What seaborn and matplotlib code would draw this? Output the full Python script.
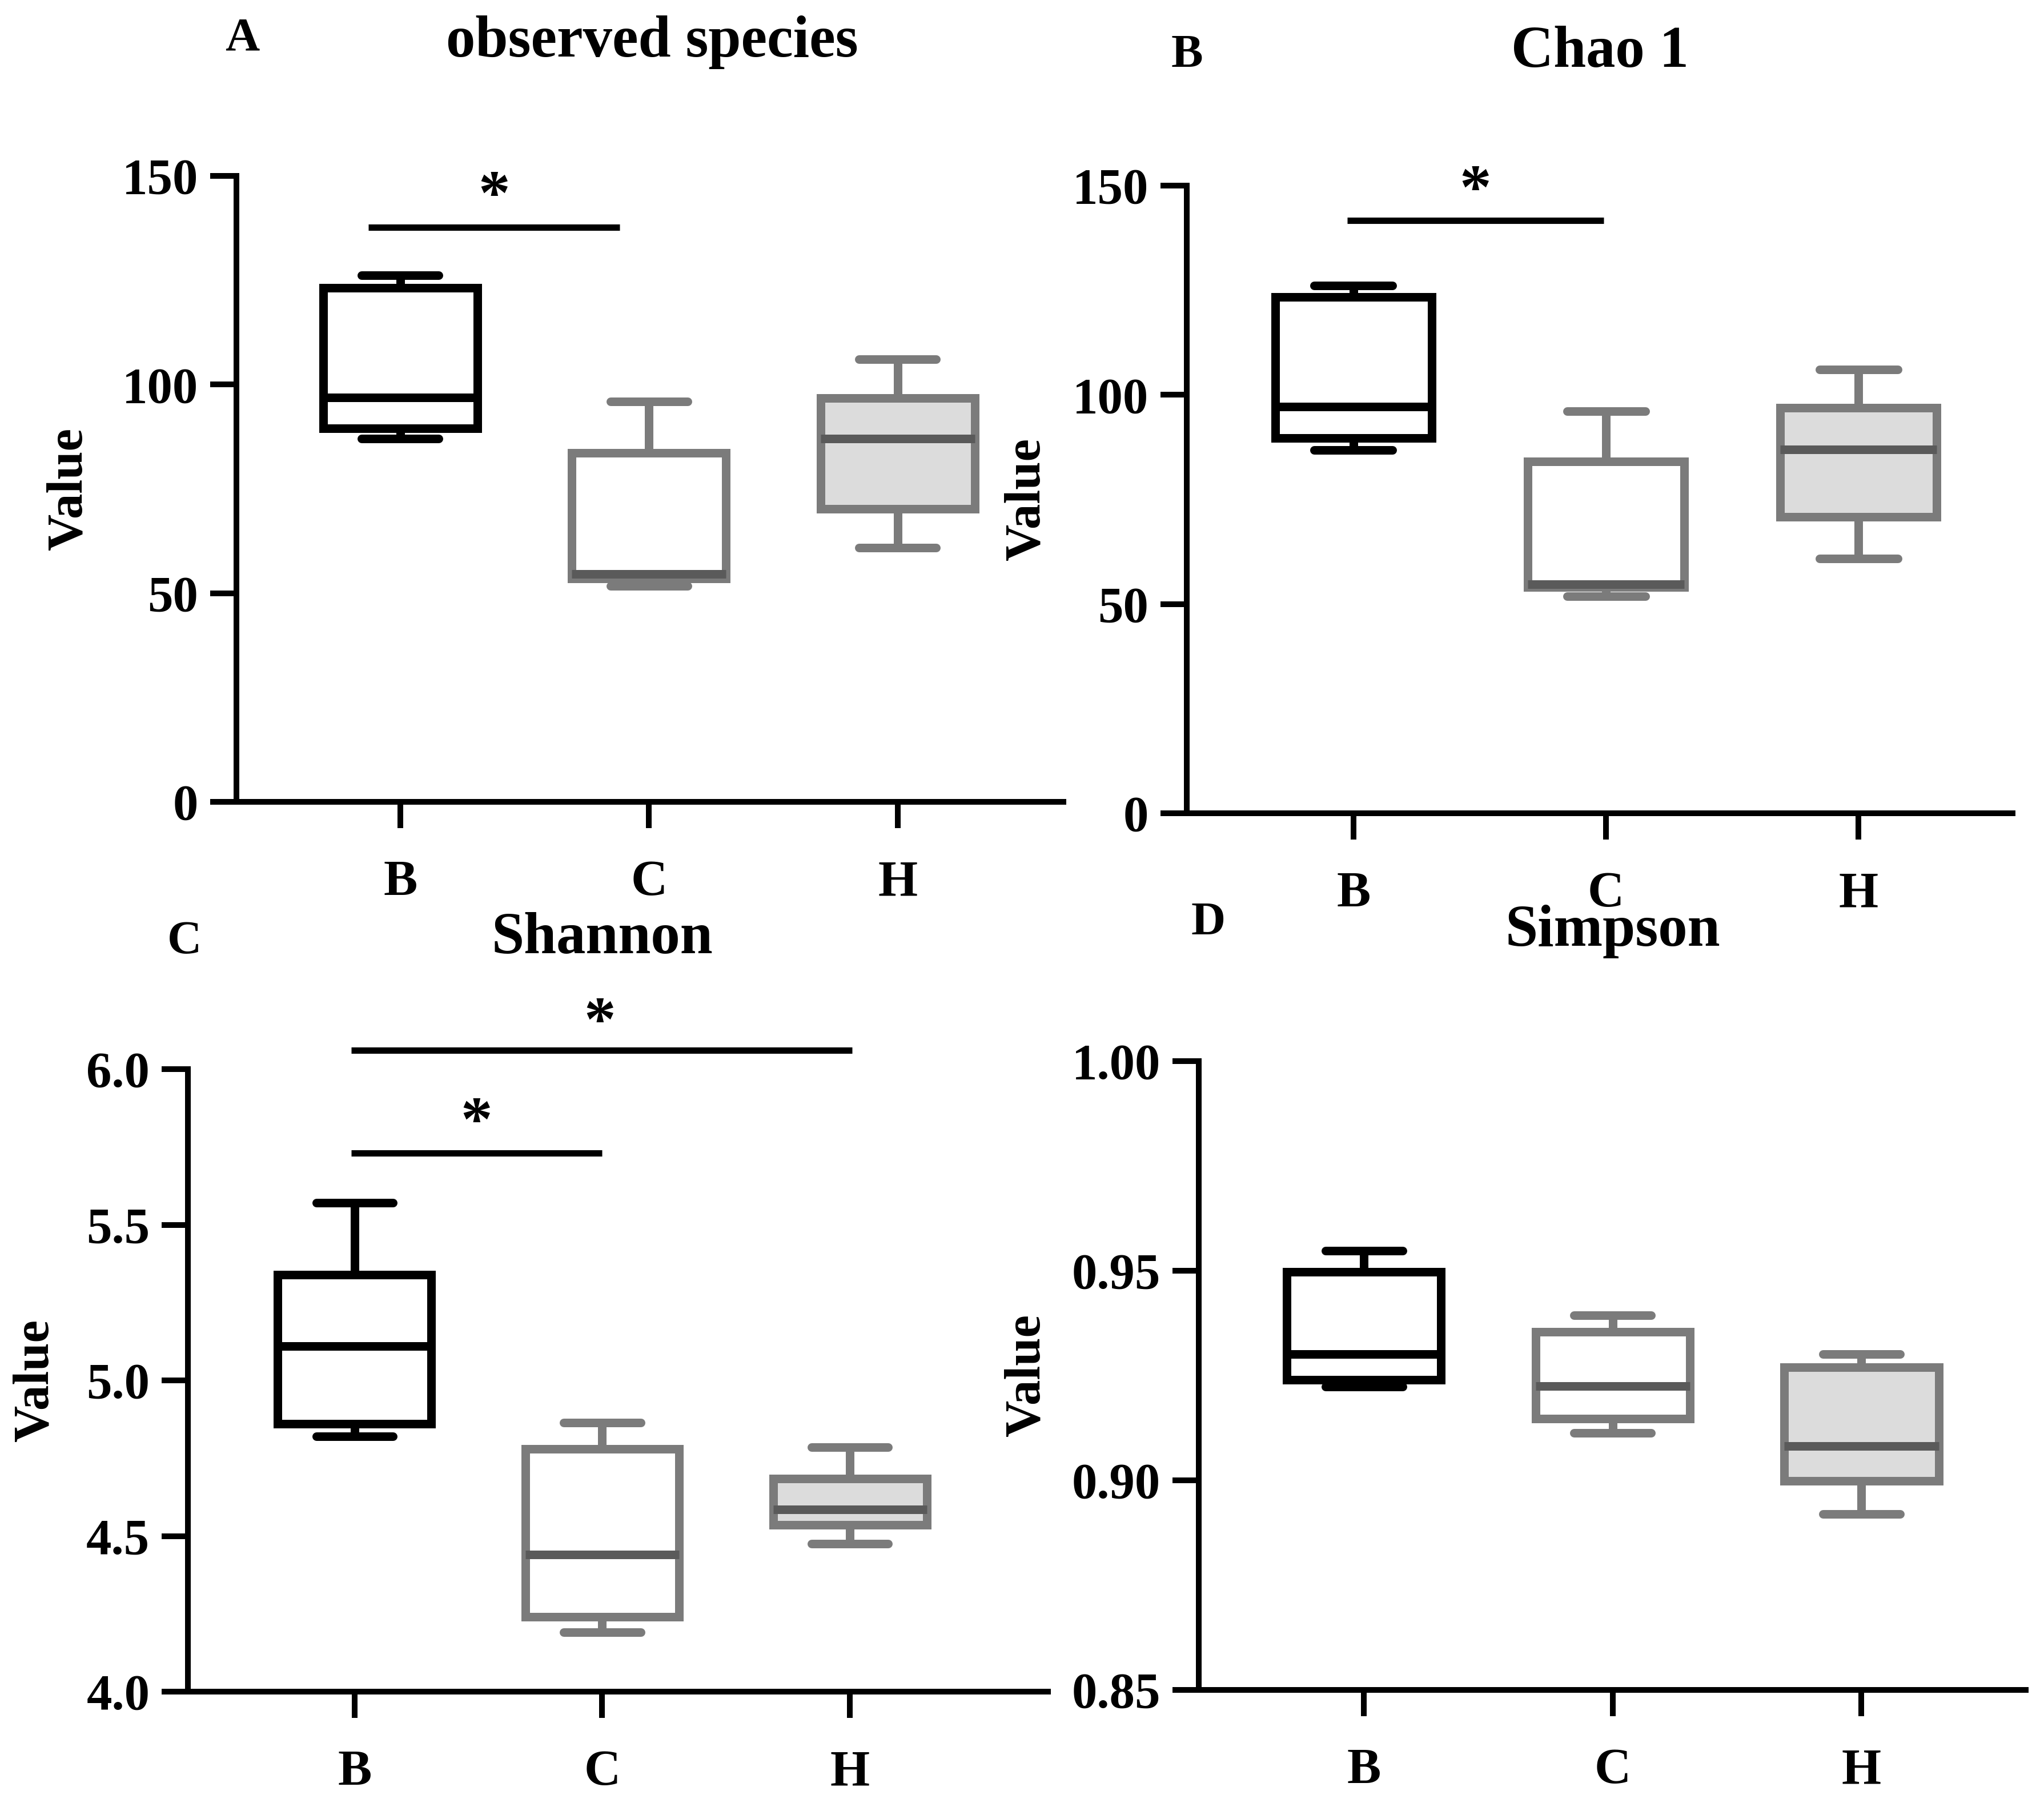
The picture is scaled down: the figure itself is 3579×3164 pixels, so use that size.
import numpy as np
import pandas as pd
import matplotlib
matplotlib.use('Agg')
import matplotlib.pyplot as plt
from matplotlib.ticker import FormatStrFormatter
import seaborn as sns

groups = ['B', 'C', 'H']

# five-number summaries: min, q1, median, q3, max
observed_B = [87.0, 89.5, 96.9, 123.2, 126.2]
observed_C = [51.8, 53.5, 54.6, 83.6, 95.9]
observed_H = [60.9, 70.2, 87.0, 96.8, 106.0]

chao1_B = [86.8, 89.7, 97.2, 123.4, 126.1]
chao1_C = [51.9, 54.0, 54.7, 84.1, 96.1]
chao1_H = [60.9, 70.8, 87.0, 96.9, 106.1]

shannon_B = [4.82, 4.86, 5.11, 5.34, 5.57]
shannon_C = [4.19, 4.24, 4.44, 4.78, 4.865]
shannon_H = [4.475, 4.535, 4.585, 4.685, 4.785]

simpson_B = [0.9223, 0.9240, 0.9301, 0.9497, 0.9548]
simpson_C = [0.9113, 0.9147, 0.9225, 0.9354, 0.9394]
simpson_H = [0.8920, 0.8999, 0.9082, 0.9270, 0.9301]

# significance bars: (x start, x end, bar y, star y)
sig_observed = [(-0.128, 0.882, 137.7, 148.2)]
sig_chao1 = [(-0.025, 0.99, 141.7, 151.9)]
sig_shannon = [(-0.014, 2.01, 6.06, 6.19), (-0.014, 1.0, 5.73, 5.87)]
sig_simpson = []

sns.set_style('ticks')
plt.rcParams['font.family'] = ['Liberation Serif', 'DejaVu Serif']
plt.rcParams['font.weight'] = 'bold'
plt.rcParams['text.color'] = 'black'
plt.rcParams['axes.edgecolor'] = 'black'
plt.rcParams['xtick.color'] = 'black'
plt.rcParams['ytick.color'] = 'black'

W, H = 3579, 3164
DPI = 200
fig = plt.figure(figsize=(W / DPI, H / DPI), dpi=DPI)

fills = {'B': 'white', 'C': 'white', 'H': '#dcdcdc'}
edges = {'B': 'black', 'C': '#7b7b7b', 'H': '#7b7b7b'}
medians = {'B': 'black', 'C': '#5a5a5a', 'H': '#5a5a5a'}


def fx(px):
    return px / W


def fy(py):
    return 1 - py / H


def rect(left, top, right, bottom):
    return [fx(left), fy(bottom), (right - left) / W, (bottom - top) / H]


def panel(box, xlim, ylim, ticks, fmt, data, sigs):
    ax = fig.add_axes(box)
    for g, vals in zip(groups, data):
        df = pd.DataFrame({'group': g, 'value': vals})
        sns.boxplot(data=df, x='group', y='value', order=groups, ax=ax,
                    width=0.62, color=fills[g], linecolor=edges[g],
                    linewidth=5.4, saturation=1, whis=(0, 100), fliersize=0,
                    medianprops=dict(color=medians[g]),
                    capprops=dict(solid_capstyle='round'))
    ax.set_xlim(*xlim)
    ax.set_ylim(*ylim)
    ax.set_yticks(ticks)
    ax.yaxis.set_major_formatter(FormatStrFormatter(fmt))
    ax.set_xlabel('')
    ax.set_ylabel('')
    sns.despine(ax=ax)
    for s in ['left', 'bottom']:
        ax.spines[s].set_linewidth(3.6)
        ax.spines[s].set_color('black')
    ax.tick_params(axis='both', length=16.5, width=3.6, labelsize=32,
                   colors='black')
    ax.tick_params(axis='x', pad=20)
    ax.tick_params(axis='y', pad=7.5)
    for lab in ax.get_xticklabels() + ax.get_yticklabels():
        lab.set_fontweight('bold')
    for x0, x1, yb, ys in sigs:
        ax.plot([x0, x1], [yb, yb], color='black', lw=4,
                solid_capstyle='butt', clip_on=False)
        ax.annotate('*', xy=((x0 + x1) / 2 if x1 - x0 < 1.5 else 0.99, ys),
                    xytext=(0, -19), textcoords='offset points',
                    ha='center', va='baseline', fontsize=40,
                    fontweight='bold', annotation_clip=False)
    return ax


panel(rect(414, 308, 1862, 1404), (-0.659, 2.666), (0, 150),
      [0, 50, 100, 150], '%d',
      [observed_B, observed_C, observed_H], sig_observed)
panel(rect(2078, 325, 3524, 1424), (-0.66, 2.61), (0, 150),
      [0, 50, 100, 150], '%d',
      [chao1_B, chao1_C, chao1_H], sig_chao1)
panel(rect(329, 1872, 1835, 2962), (-0.673, 2.80), (4.0, 6.0),
      [4.0, 4.5, 5.0, 5.5, 6.0], '%.1f',
      [shannon_B, shannon_C, shannon_H], sig_shannon)
panel(rect(2099, 1858, 3547, 2959), (-0.664, 2.66), (0.85, 1.00),
      [0.85, 0.90, 0.95, 1.00], '%.2f',
      [simpson_B, simpson_C, simpson_H], sig_simpson)

# titles
for txt, x, y in [('observed species', 1142, 99), ('Chao 1', 2801, 117),
                  ('Shannon', 1054, 1669), ('Simpson', 2824, 1656)]:
    fig.text(fx(x), fy(y), txt, ha='center', va='baseline', fontsize=37,
             fontweight='bold')

# panel letters
for txt, x, y in [('A', 424, 87), ('B', 2078, 117), ('C', 323, 1669),
                  ('D', 2116, 1636)]:
    fig.text(fx(x), fy(y), txt, ha='center', va='baseline', fontsize=30,
             fontweight='bold')

# y axis labels
for x, y in [(121, 856), (1798, 874), (62, 2417), (1798, 2408)]:
    fig.text(fx(x), fy(y), 'Value', ha='center', va='center', rotation=90,
             fontsize=32, fontweight='bold')

fig.savefig('out.png', dpi=DPI)
